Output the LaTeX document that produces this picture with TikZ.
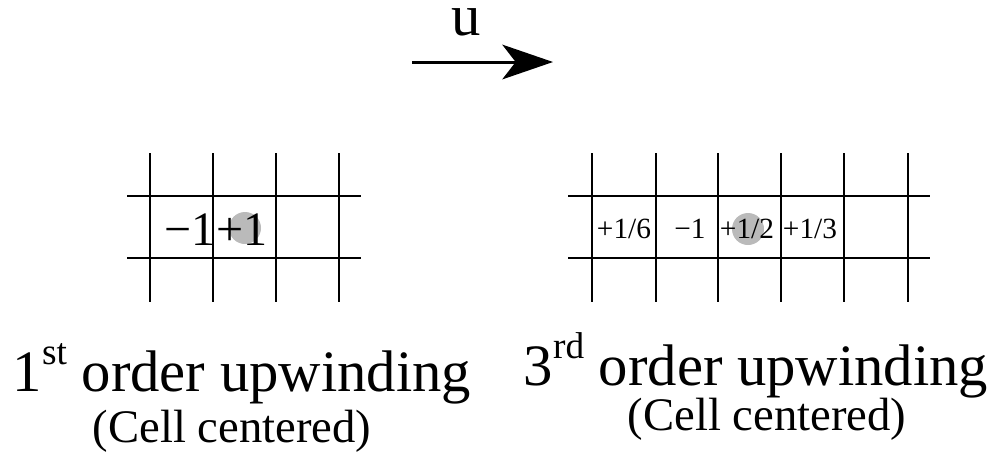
\documentclass[tikz,border=0pt]{standalone}
\usepackage{fontspec}
\setmainfont{Liberation Serif}
\usetikzlibrary{arrows.meta}
\newcommand\mysup[1]{\raisebox{20pt}{\fontsize{28}{32}\selectfont #1}}
\begin{document}
\begin{tikzpicture}[x=0.75pt,y=-0.75pt,
  gridline/.style={line width=1.5pt},
  dot/.style={circle,fill=black!27,inner sep=0pt,minimum size=24pt},
  bigval/.style={font=\fontsize{36}{40}\selectfont,inner sep=0pt,anchor=base},
  smallval/.style={font=\fontsize{22}{26}\selectfont,inner sep=0pt,anchor=base},
  title/.style={font=\fontsize{44}{50}\selectfont,inner sep=0pt,anchor=base},
  subtitle/.style={font=\fontsize{35}{42}\selectfont,inner sep=0pt,anchor=base},
  flowarrow/.style={line width=2.25pt,-{Stealth[length=38pt,width=26pt,inset=10pt]}}]
\useasboundingbox (0,0) rectangle (992,455);
% velocity arrow
\coordinate (a0) at (412,62);
\coordinate (a1) at (553,62);
\draw[flowarrow] (a0) -- (a1);
\node[font=\fontsize{44}{50}\selectfont,inner sep=0pt,anchor=base,text height=20pt] (u) at (466,35) {u};
% left grid
\node[dot] (c1) at (245,228) {};
\foreach \y in {196,258} \draw[gridline] (127,\y) -- (361,\y);
\foreach \x in {150,213,276,339} \draw[gridline] (\x,153) -- (\x,302);
\node[bigval] (l1) at (190,245) {−1};
\node[bigval] (l2) at (242,245) {+1};
% right grid
\node[dot] (c2) at (748,229) {};
\foreach \y in {196,258} \draw[gridline] (568,\y) -- (930,\y);
\foreach \x in {592,656,718,781,844,908} \draw[gridline] (\x,153) -- (\x,302);
\node[smallval] (r1) at (624,238) {+1/6};
\node[smallval] (r2) at (690,238) {−1};
\node[smallval] (r3) at (747,238) {+1/2};
\node[smallval] (r4) at (810,238) {+1/3};
% titles
\node[title] (t1) at (242,391) {1\mysup{st} order upwinding};
\node[subtitle] (s1) at (232,442) {(Cell centered)};
\node[title] (t2) at (756,385) {3\mysup{rd} order upwinding};
\node[subtitle] (s2) at (767,430) {(Cell centered)};
\end{tikzpicture}
\end{document}
